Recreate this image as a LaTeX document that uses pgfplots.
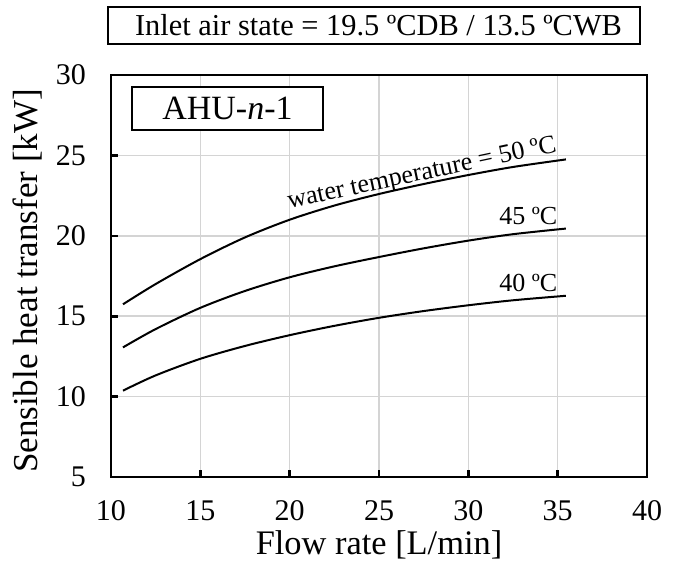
\documentclass[border=0pt]{standalone}
\usepackage{fontspec}
\setmainfont{Liberation Serif}
\usepackage{pgfplots}
\pgfplotsset{compat=1.18}
\begin{document}
\begin{tikzpicture}
\useasboundingbox (-55.5bp,-48bp) rectangle (285bp,238.5bp);
\begin{axis}[
  at={(0,0)}, anchor=south west,
  scale only axis, width=268bp, height=201bp,
  xmin=10, xmax=40, ymin=5, ymax=30,
  xtick={10,15,...,40}, ytick={5,10,...,30},
  grid=major, major grid style={draw=black!17, line width=0.75bp},
  axis line style={line width=1.3bp},
  tick style={black, line width=1.3bp},
  major tick length=3.5bp,
  tick pos=left, tick align=inside,
  ticklabel style={font=\fontsize{15bp}{18bp}\selectfont},
  xticklabel style={inner sep=1bp},
  /pgf/number format/assume math mode=true,
  xticklabel shift=10.5bp, yticklabel shift=9bp,
  clip=false,
]
\addplot[black, line width=1bp, smooth] coordinates {
 (10.67,15.74) (12.5,17.0) (15,18.55) (17.5,19.9) (20,21.0) (22.5,21.88)
 (25,22.6) (27.5,23.22) (30,23.78) (32.5,24.28) (35.46,24.75)};
\addplot[black, line width=1bp, smooth] coordinates {
 (10.67,13.06) (12.5,14.2) (15,15.52) (17.5,16.57) (20,17.42) (22.5,18.1)
 (25,18.68) (27.5,19.22) (30,19.7) (32.5,20.1) (35.46,20.45)};
\addplot[black, line width=1bp, smooth] coordinates {
 (10.67,10.37) (12.5,11.32) (15,12.35) (17.5,13.15) (20,13.82) (22.5,14.4)
 (25,14.9) (27.5,15.32) (30,15.68) (32.5,15.99) (35.46,16.27)};
\node[anchor=base east, rotate=12, inner sep=0pt, font=\fontsize{13bp}{15bp}\selectfont] at (axis cs:35,25.25) {water temperature = 50 ºC};
\node[anchor=base east, inner sep=0pt, font=\fontsize{13bp}{15bp}\selectfont] at (axis cs:35,20.7) {45 ºC};
\node[anchor=base east, inner sep=0pt, font=\fontsize{13bp}{15bp}\selectfont] at (axis cs:35,16.55) {40 ºC};
\end{axis}
\node[inner sep=0.5bp, font=\fontsize{17.2bp}{20bp}\selectfont] at (134bp,-34bp) {Flow rate [L/min]};
\node[rotate=90, font=\fontsize{17.5bp}{20bp}\selectfont] at (-41.5bp,98bp) {Sensible heat transfer [kW]};
\node[draw, line width=0.75bp, minimum width=266bp, minimum height=18.5bp, inner sep=0pt] at (131.5bp,225.75bp) {};
\node[inner sep=0pt, font=\fontsize{15.2bp}{18bp}\selectfont] at (133.75bp,225.75bp) {Inlet air state = 19.5 ºCDB / 13.5 ºCWB};
\node[draw, fill=white, line width=0.75bp, minimum width=95.5bp, minimum height=21.5bp, inner sep=0pt, font=\fontsize{17bp}{20bp}\selectfont] at (58.25bp,184.25bp) {AHU-\textit{n}-1};
\end{tikzpicture}
\end{document}
